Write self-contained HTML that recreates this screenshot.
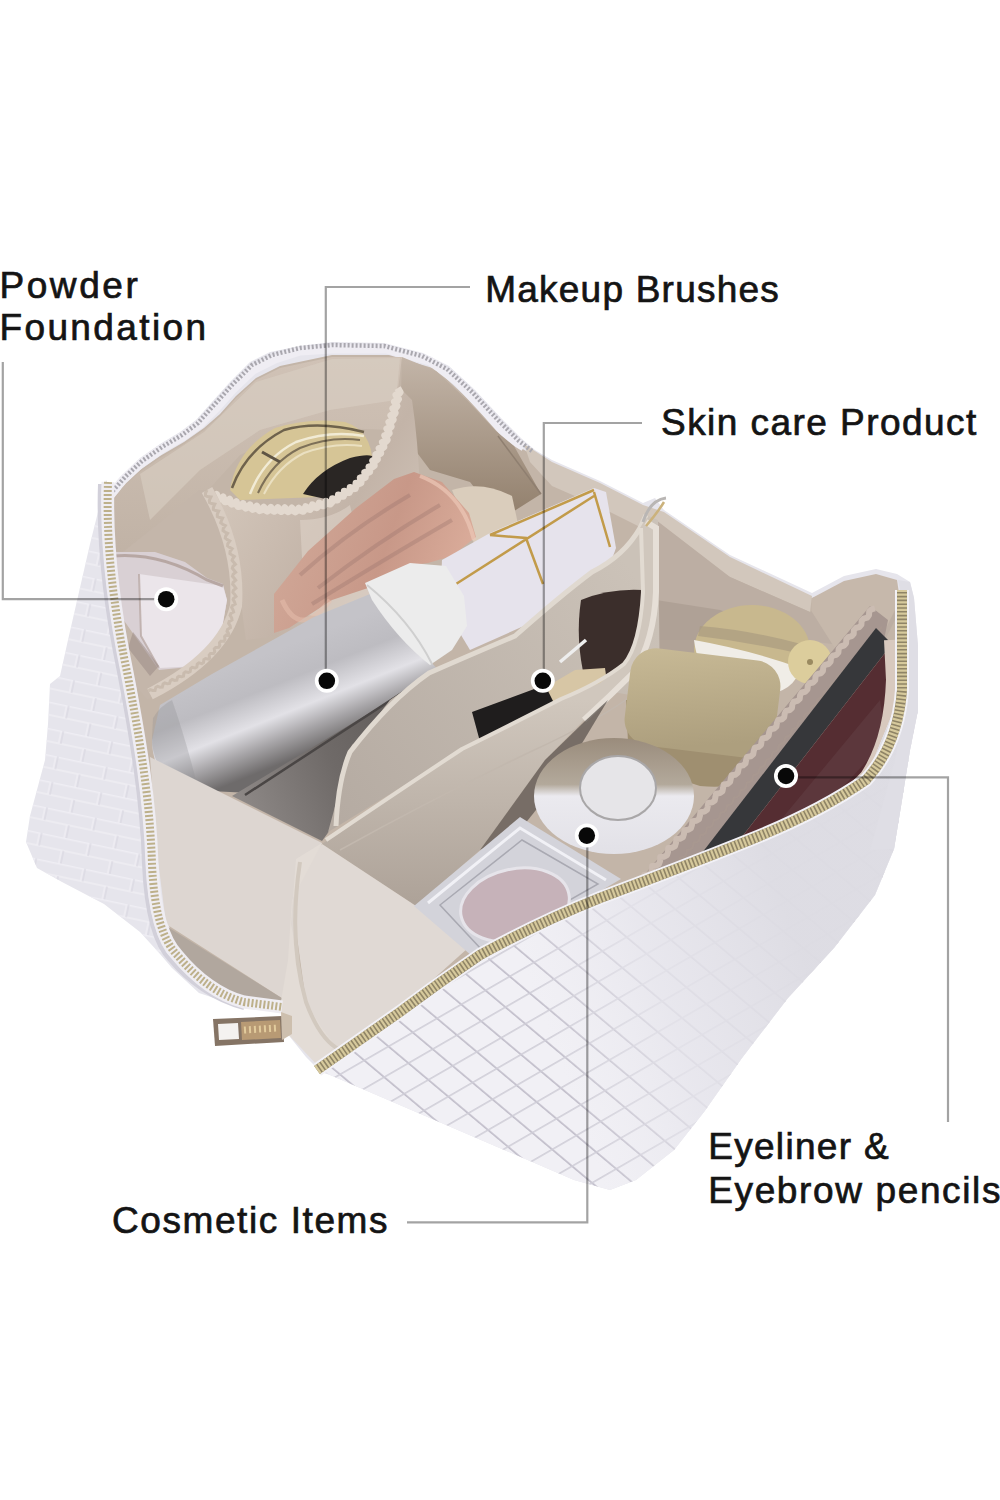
<!DOCTYPE html>
<html><head><meta charset="utf-8">
<style>
html,body{margin:0;padding:0;background:#fff;}
body{width:1000px;height:1500px;overflow:hidden;position:relative;}
svg{position:absolute;left:0;top:0;}
.t{position:absolute;font-family:"Liberation Sans",sans-serif;font-size:37px;color:#141414;white-space:nowrap;line-height:1;-webkit-text-stroke:0.7px #141414;}
</style></head><body>
<svg width="1000" height="1500" viewBox="0 0 1000 1500">
<defs>
<linearGradient id="silver" gradientUnits="userSpaceOnUse" x1="300" y1="640" x2="340" y2="740">
<stop offset="0" stop-color="#c4c3c8"/><stop offset="0.3" stop-color="#bdbcc1"/><stop offset="0.58" stop-color="#e2e1e6"/><stop offset="0.78" stop-color="#a9a7aa"/><stop offset="1" stop-color="#6e6b6b"/>
</linearGradient>
<linearGradient id="pink" gradientUnits="userSpaceOnUse" x1="300" y1="520" x2="470" y2="580">
<stop offset="0" stop-color="#cfa595"/><stop offset="0.5" stop-color="#c89888"/><stop offset="1" stop-color="#dcae9c"/>
</linearGradient>
<linearGradient id="gold" x1="0" y1="0" x2="0.3" y2="1">
<stop offset="0" stop-color="#c8ba96"/><stop offset="1" stop-color="#ad9f7e"/>
</linearGradient>
<linearGradient id="lid" gradientUnits="userSpaceOnUse" x1="0" y1="360" x2="0" y2="560">
<stop offset="0" stop-color="#d0c2b6"/><stop offset="1" stop-color="#c0b2a5"/>
</linearGradient>
<linearGradient id="scomp" x1="0" y1="0" x2="0" y2="1">
<stop offset="0" stop-color="#9a8c7c"/><stop offset="0.4" stop-color="#b3a99b"/><stop offset="0.5" stop-color="#ebeaef"/><stop offset="1" stop-color="#e2e1e7"/>
</linearGradient>
<linearGradient id="rlid" gradientUnits="userSpaceOnUse" x1="0" y1="360" x2="0" y2="510">
<stop offset="0" stop-color="#c2b4a7"/><stop offset="1" stop-color="#94826f"/>
</linearGradient>
<linearGradient id="pouch" gradientUnits="userSpaceOnUse" x1="220" y1="500" x2="420" y2="620">
<stop offset="0" stop-color="#d2c5b9"/><stop offset="0.5" stop-color="#c3b4a8"/><stop offset="1" stop-color="#d6cabf"/>
</linearGradient>
<linearGradient id="floor" gradientUnits="userSpaceOnUse" x1="240" y1="800" x2="420" y2="720">
<stop offset="0" stop-color="#8d8886"/><stop offset="0.5" stop-color="#6f6a68"/><stop offset="1" stop-color="#5f5a58"/>
</linearGradient>
<linearGradient id="frontlayer" gradientUnits="userSpaceOnUse" x1="0" y1="700" x2="0" y2="900">
<stop offset="0" stop-color="#d0c7bd"/><stop offset="1" stop-color="#aea399"/>
</linearGradient>
<linearGradient id="backlayer" gradientUnits="userSpaceOnUse" x1="340" y1="820" x2="640" y2="580">
<stop offset="0" stop-color="#b5aba2"/><stop offset="1" stop-color="#cbc2b8"/>
</linearGradient>
<linearGradient id="wash" gradientUnits="userSpaceOnUse" x1="540" y1="1010" x2="790" y2="920">
<stop offset="0" stop-color="#ebeaf0" stop-opacity="0"/><stop offset="0.45" stop-color="#e6e5ec" stop-opacity="0.8"/><stop offset="1" stop-color="#dddce3" stop-opacity="0.97"/>
</linearGradient>
<pattern id="weave" width="26" height="28" patternUnits="userSpaceOnUse" patternTransform="matrix(0.766 0.643 0.866 -0.5 0 0)">
<path d="M0,0.9 H26" stroke="#c1beca" stroke-width="1.8" fill="none"/>
<path d="M0.9,0 V28" stroke="#cfcdd7" stroke-width="1.6" fill="none"/>
</pattern>
<pattern id="weave2" width="50" height="26" patternUnits="userSpaceOnUse" patternTransform="rotate(12)">
<path d="M0,0.8 H50 M12,0 V13 M37,13 V26 M0,13 H50" stroke="#efeef4" stroke-width="1.4" fill="none"/>
<path d="M14,0 V13 M39,13 V26" stroke="#d6d4de" stroke-width="1" fill="none"/>
</pattern>
</defs>

<path fill="#e6e5ec" d="M106,480 L112,490 L124,474 L140,458 L160,444 L180,432 L196,420 L212,402 L230,382 L250,362 L270,352 L300,346 L332,342 L384,343 L423,353 L449,366 L475,390 L501,418 L522,439 L535,450 L552,460 L600,481 L643,503 L655,498 L664,510 L730,555 L812,593 L844,576 L876,569 L897,574 L910,582 L914,598 L918,646 L918,710 L910,750 L902,800 L894,849 L875,895 L834,948 L788,998 L742,1058 L704,1112 L674,1150 L636,1180 L610,1190 L574,1180 L330,1075 L321,1072 L306,1057 L286,1032 L282,1012 L244,1008 L199,993 L172,968 L160,954 L140,932 L104,904 L62,882 L37,868 L26,842 L30,816 L45,760 L48,724 L50,684 L60,676 L68,640 L90,544 Z"/>
<path fill="url(#weave2)" d="M106,480 L90,544 L68,640 L60,676 L50,684 L48,724 L45,760 L30,816 L26,842 L37,868 L62,882 L104,904 L140,932 L160,954 L172,968 L150,880 L145,800 L125,672 L106,576 Z"/>
<path d="M100,484 C98,540 104,600 119,672 C132,740 142,800 144,864 C146,910 154,944 170,960 C188,982 214,1000 244,1008" stroke="#d2d0da" stroke-width="4" fill="none"/>
<path fill="#c3b5a8" d="M112,500 L122,486 L140,470 L160,456 L184,442 L204,428 L220,414 L236,396 L256,378 L280,366 L332,355 L389,355 L436,369 L467,398 L496,429 L514,444 L552,466 L600,487 L643,508 L664,516 L730,560 L812,598 L880,578 L902,600 L905,700 L870,780 L750,840 L600,915 L480,952 L390,1018 L318,1066 L280,1007 L174,955 L157,852 L149,769 L136,686 L112,583 Z"/>
<path d="M109,497 L123,480 L140,464 L160,450 L182,437 L200,424 L216,408 L233,389 L253,370 L275,359 L300,351 L332,349 L386,349 L430,361 L458,382 L484,410 L508,437 L524,447" stroke="#efedf3" stroke-width="9" fill="none" stroke-linejoin="round"/>
<path fill="url(#lid)" d="M113,502 L122,488 L140,472 L160,458 L184,444 L204,430 L220,416 L236,398 L256,380 L280,368 L332,357 L402,357 L398,390 L390,430 L340,428 L290,432 L240,455 L210,488 L150,548 L115,556 Z"/>
<path fill="#d9cec3" opacity="0.6" d="M140,474 L204,432 L256,382 L332,359 L400,358 L396,400 L330,410 L260,430 L200,470 L150,520 Z"/>
<path fill="url(#rlid)" d="M402,357 L436,371 L467,400 L496,431 L514,446 L541,494 L500,520 L470,482 L430,470 L400,430 Z"/>
<path d="M498,436 L541,494" stroke="#8f7f70" stroke-width="1.5" fill="none"/>
<path fill="#d2c7bc" d="M524,444 L552,462 L600,483 L643,505 L664,512 L730,557 L812,596 L810,612 L730,577 L650,532 L600,507 L552,486 L530,462 Z"/>
<path fill="#bcaea3" d="M656,520 L730,577 L810,612 L880,585 L900,610 L880,650 L800,640 L700,640 L656,640 Z"/>
<path fill="#a99b90" d="M656,600 L720,610 L800,640 L700,660 L656,660 Z" opacity="0.7"/>
<path fill="#c6b8ab" d="M812,598 L844,581 L876,574 L897,580 L900,600 L880,640 L836,650 L812,612 Z"/>
<path fill="#d6c596" d="M230,490 Q236,450 275,428 Q310,417 345,422 Q375,432 372,470 L370,495 L240,500 Z"/>
<path d="M232,488 Q246,450 284,430 Q318,420 364,432" stroke="#6e624c" stroke-width="2.5" fill="none"/>
<path d="M258,493 Q272,462 300,448 Q330,436 360,440" stroke="#7d7058" stroke-width="2" fill="none"/>
<path d="M250,494 Q264,458 296,442 Q330,430 364,436" stroke="#f4eedc" stroke-width="2.5" fill="none" opacity="0.9"/>
<path d="M264,494 Q278,466 304,453 Q334,442 362,446" stroke="#efe6cc" stroke-width="2" fill="none" opacity="0.8"/>
<path d="M262,452 L280,462" stroke="#5e5444" stroke-width="3" fill="none"/>
<path d="M303,494 Q318,470 350,458 Q366,454 372,456 L372,486 L330,500 Z" fill="#2a2624"/>
<path fill="url(#pouch)" d="M209,490 Q240,505 262,508 Q300,510 332,500 Q355,486 368,468 Q378,452 385,440 L398,386 L412,400 Q418,440 420,490 L422,570 Q400,615 332,630 L246,640 Q240,600 238,560 Q232,520 209,490 Z"/>
<path d="M210.0,492.0 L210.7,495.3 L211.9,497.0 L214.0,496.5 L216.6,494.4 L217.2,497.7 L218.5,499.4 L220.5,498.9 L223.1,496.9 L223.8,500.1 L225.1,501.8 L227.1,501.3 L229.7,499.3 L230.4,502.5 L231.7,504.2 L233.7,503.7 L236.3,501.7 L237.0,505.0 L238.2,506.6 L240.8,506.0 L243.0,503.6 L244.2,506.7 L245.8,508.1 L247.7,507.2 L249.9,504.9 L251.1,508.0 L252.7,509.4 L254.6,508.5 L256.8,506.2 L258.0,509.2 L259.6,510.6 L261.9,509.7 L263.8,507.2 L265.4,510.0 L267.2,511.1 L268.9,509.9 L270.8,507.4 L272.4,510.2 L274.2,511.3 L275.9,510.1 L277.8,507.6 L279.4,510.4 L281.2,511.5 L283.0,510.3 L284.8,507.8 L286.4,510.6 L288.2,511.7 L290.0,510.4 L291.8,508.0 L293.5,510.8 L295.2,511.9 L297.0,510.6 L298.8,508.2 L301.3,510.7 L303.2,511.3 L304.6,509.5 L305.7,506.7 L308.1,508.9 L310.0,509.5 L311.4,507.7 L312.4,504.9 L314.8,507.1 L316.8,507.7 L318.1,505.9 L319.2,503.1 L321.6,505.3 L323.6,505.8 L324.9,504.1 L326.0,501.3 L328.4,503.5 L330.3,504.0 L332.3,501.7 L332.5,498.7 L335.4,500.1 L337.4,500.0 L338.2,497.9 L338.4,495.0 L341.4,496.3 L343.3,496.2 L344.1,494.1 L344.3,491.2 L347.3,492.6 L349.3,492.4 L350.0,490.3 L350.2,487.4 L353.2,488.8 L355.2,488.6 L355.9,486.5 L356.0,483.3 L359.2,483.6 L361.0,482.8 L361.0,480.6 L360.3,477.8 L363.5,478.1 L365.3,477.3 L365.3,475.1 L364.7,472.3 L367.9,472.6 L369.7,471.8 L369.6,469.6 L369.0,466.8 L372.2,467.1 L374.2,465.5 L373.7,463.3 L372.7,460.8 L375.9,460.5 L377.4,459.3 L376.9,457.1 L375.9,454.6 L379.1,454.3 L380.7,453.1 L380.2,450.9 L379.1,448.4 L382.3,448.0 L383.9,446.9 L383.4,444.6 L382.4,442.2 L385.6,441.8 L387.2,439.9 L386.3,437.8 L384.8,435.5 L387.9,434.6 L389.2,433.2 L388.3,431.1 L386.9,428.8 L389.9,427.9 L391.2,426.5 L390.3,424.3 L388.9,422.1 L391.9,421.2 L393.2,419.7 L392.3,417.6 L390.9,415.4 L394.0,414.5 L395.2,413.0 L394.3,410.9 L392.9,408.6 L395.8,407.5 L397.0,406.0 L395.9,403.9 L394.4,401.8 L397.4,400.7 L398.5,399.1 L397.4,397.1 L396.0,395.0 L399.0,393.8 L400.1,392.3 L398.9,390.2 L397.6,388.1" stroke="#e3d9cf" stroke-width="7" fill="none" stroke-linejoin="round"/>
<path d="M300,520 Q330,520 350,505 L372,600 Q340,620 305,615 Z" fill="#ddd2c8" opacity="0.6"/>
<path fill="#dacdbc" d="M452,490 Q482,480 512,496 L518,524 L476,548 Z"/>
<path fill="url(#pink)" d="M274,594 L308,551 L356,508 L394,479 L414,472 L442,482 L469,513 L476,537 L452,556 L428,563 L404,566 L368,588 L332,600 L289,628 L274,633 Z"/>
<path d="M318,588 Q380,540 440,505 M312,604 Q390,556 452,520 M300,575 Q350,530 410,495" stroke="#94706a" stroke-width="4" opacity="0.32" fill="none"/>
<path d="M420,476 Q462,492 474,540" stroke="#ecc8b6" stroke-width="4" opacity="0.7" fill="none"/>
<path d="M282,600 Q300,640 330,600" stroke="#e8c0ae" stroke-width="5" opacity="0.5" fill="none"/>
<path fill="#e6e3ec" d="M442,560 L490,533 L594,488 L606,492 L616,548 L600,592 L470,650 L440,600 Z"/>
<path d="M456,584 L594,496 M490,535 L594,490 M490,535 L526,538 L543,584 M594,492 L610,547" stroke="#c29b4a" stroke-width="2.5" fill="none"/>
<path fill="#c4b6aa" d="M113,560 L200,490 L214,490 Q240,540 238,600 Q226,650 190,674 L147,700 L136,686 Z"/>
<path fill="#d9d0d4" d="M113,552 L155,552 L185,562 L207,578 L223,584 L227,600 L220,640 L199,666 L159,670 L139,642 L118,612 L111,575 Z"/>
<path fill="#ebe5ea" d="M139,574 L223,586 L227,600 L220,640 L199,666 L159,668 L141,636 Z"/>
<path d="M113,556 Q160,552 207,580 L223,586" stroke="#a8968e" stroke-width="3" fill="none" opacity="0.7"/>
<path d="M139,574 L141,636 L159,668" stroke="#b3a39c" stroke-width="2" fill="none" opacity="0.7"/>
<path fill="#9c8c86" opacity="0.55" d="M133,632 L159,666 L150,676 L128,648 Z"/>
<path d="M207,490 Q240,548 236,606 Q224,656 150,694" stroke="#d9cdc2" stroke-width="12" fill="none"/>
<path d="M207.0,490.0 L205.5,493.1 L205.5,495.5 L207.5,496.6 L210.9,497.0 L209.4,500.2 L209.5,502.5 L211.6,503.6 L214.8,504.1 L213.4,507.2 L213.4,509.5 L215.6,510.6 L218.7,511.1 L217.3,514.2 L217.4,516.5 L219.6,517.5 L222.6,518.1 L221.2,521.2 L220.7,522.8 L222.6,524.3 L225.3,525.6 L223.3,528.3 L223.0,530.5 L224.9,532.0 L227.6,533.3 L225.6,536.0 L225.3,538.2 L227.3,539.7 L229.8,541.0 L227.8,543.7 L227.6,545.9 L229.7,547.4 L232.1,548.7 L230.1,551.4 L229.9,553.6 L232.0,555.1 L234.3,556.5 L232.4,559.2 L232.1,560.3 L233.7,562.2 L235.4,564.2 L232.9,566.3 L232.3,568.3 L234.0,570.3 L235.6,572.2 L233.1,574.3 L232.5,576.3 L234.2,578.3 L235.7,580.3 L233.2,582.4 L232.7,584.4 L234.5,586.3 L235.9,588.3 L233.4,590.4 L232.9,592.4 L234.7,594.4 L236.0,596.4 L233.5,598.4 L233.1,599.6 L234.5,601.9 L235.2,604.1 L232.4,605.6 L231.6,607.5 L233.0,609.8 L233.6,612.0 L230.8,613.5 L230.1,615.4 L231.6,617.7 L232.0,619.9 L229.3,621.4 L228.6,623.3 L230.1,625.6 L230.4,627.8 L227.7,629.3 L227.0,631.2 L228.6,633.6 L228.8,635.6 L226.0,635.2 L224.6,636.6 L224.9,639.4 L223.9,641.2 L220.9,641.3 L219.5,642.8 L219.8,645.6 L218.7,647.4 L215.7,647.5 L214.3,648.9 L214.7,651.8 L213.5,653.5 L210.5,653.6 L209.2,655.1 L209.6,658.1 L208.5,659.2 L205.6,658.5 L203.9,659.6 L203.5,662.5 L201.8,663.6 L198.9,662.9 L197.3,664.1 L196.8,667.0 L195.1,668.0 L192.2,667.4 L190.6,668.6 L190.2,671.5 L188.3,672.4 L185.5,671.8 L183.9,673.0 L183.5,676.1 L181.6,676.8 L178.8,676.3 L177.6,677.1 L176.8,680.1 L174.7,680.5 L172.1,679.5 L170.4,680.6 L169.5,683.5 L167.4,683.8 L164.8,682.9 L163.1,684.0 L162.3,687.0 L160.1,687.2 L157.5,686.3 L155.8,687.4 L155.0,690.5 L152.8,690.5 L150.2,689.7 L148.5,690.9" stroke="#c4b6a9" stroke-width="3" fill="none" opacity="0.8"/>
<path fill="url(#silver)" d="M160,705 L212,674 L314,617 L370,594 L440,672 L391,700 L250,793 L190,790 Q152,780 152,740 Z"/>
<path fill="#8f8d92" opacity="0.3" d="M153,718 Q160,706 172,700 Q186,740 198,788 Q172,782 160,768 Q152,754 152,738 Z"/>
<path fill="#ececec" d="M365,583 L410,563 L446,566 L464,596 L467,626 L452,650 L430,665 Q398,640 372,600 Z"/>
<path d="M367,585 Q410,620 432,664" stroke="#cfcfcf" stroke-width="2" fill="none"/>
<path fill="url(#floor)" d="M232,796 L391,700 L440,672 L470,660 L352,745 L330,830 L322,841 Z"/>
<path d="M245,795 L391,700 L440,668" stroke="#4a4645" stroke-width="2.5" fill="none"/>
<path fill="#ddd6d1" d="M150,757 L322,843 L300,900 L292,960 L288,1002 L166,924 L157,852 Z"/>
<path fill="#b1a79e" d="M166,926 L288,1002 L280,1007 L244,1002 L205,989 L174,955 Z"/>
<path fill="url(#backlayer)" d="M328,832 L350,752 L390,700 L429,673 L495,647 L560,600 L592,571 L621,555 L640,528 L646,515 L658,520 L660,700 L595,689 L519,727 L424,773 L325,834 Z"/>
<path d="M336,826 Q338,780 350,752 Q390,700 429,673 Q470,655 515,636 Q560,596 592,572 Q624,556 640,528 L646,515" stroke="#e0d9d0" stroke-width="5" fill="none"/>
<path fill="#3b2e2b" d="M581,600 Q610,588 643,590 L643,640 Q636,664 612,680 L585,680 Q575,640 581,600 Z"/>
<path fill="#d7c6a5" d="M541,690 L575,670 L605,668 L608,690 L560,713 Z"/>
<path fill="#1f1d1d" d="M472,712 L545,685 L560,715 L482,749 Z"/>
<path d="M560,662 L586,640" stroke="#eeeeee" stroke-width="3.5" fill="none"/>
<path fill="url(#frontlayer)" d="M322,844 L462,749 L561,699 L600,683 L624,664 L637,640 L643,592 L640,528 L646,518 L656,525 L656,592 L650,640 L634,672 L608,696 L584,720 L545,760 L480,850 L416,906 Z"/>
<path d="M326,840 Q400,790 462,749 Q520,720 561,699 Q600,683 624,664 Q640,645 643,592 L641,528" stroke="#e2dbd2" stroke-width="4" fill="none"/>
<path d="M646,522 L656,528 L656,592 Q654,640 634,672 Q610,696 584,720" stroke="#e6dfd7" stroke-width="6" fill="none"/>
<path d="M340,850 Q430,800 530,752 Q600,720 640,690" stroke="#c2b8ae" stroke-width="1.5" fill="none"/>
<path d="M643,522 Q650,500 666,498" stroke="#b9b6b4" stroke-width="3" fill="none"/>
<path d="M646,526 Q658,512 664,502" stroke="#cbb27c" stroke-width="2.5" fill="none"/>
<path fill="#e0d9d4" d="M322,844 L416,906 L468,948 L390,1018 L318,1066 L306,1002 L296,930 L300,870 Z"/>
<path fill="#e3dcd6" d="M322,843 L296,859 L291,924 L306,1002 L322,1028 L335,1045 L318,1066 L286,1032 L280,1007 L288,960 L292,900 Z"/>
<path d="M300,862 Q288,940 306,1002 Q320,1040 340,1050" stroke="#d2c9bf" stroke-width="4" fill="none"/>
<path fill="#5e5550" opacity="0.75" d="M480,850 L545,760 L584,722 L608,700 L560,780 L520,830 Z"/>
<ellipse cx="752" cy="650" rx="58" ry="45" fill="#c8b88e"/>
<path d="M694,640 Q750,650 800,668 Q795,695 750,697 Q700,690 694,640 Z" fill="#f0ede7"/><path d="M700,626 Q750,630 805,645 L806,655 Q750,642 698,636 Z" fill="#a99b80" opacity="0.7"/>
<circle cx="810" cy="662" r="22" fill="#dccd9c"/><circle cx="810" cy="662" r="3" fill="#9a8a60"/>
<path fill="#9f8f70" d="M626,700 L628,742 Q650,772 700,786 Q745,790 768,770 L780,720 Z"/>
<rect x="627" y="654" width="151" height="98" rx="26" transform="rotate(7 702 703)" fill="url(#gold)"/>
<ellipse cx="614" cy="796" rx="80" ry="58" fill="url(#scomp)"/>
<ellipse cx="618" cy="788" rx="38" ry="32" fill="#e6e5e8" stroke="#a9a7a8" stroke-width="2"/>
<path fill="#d3d3da" d="M414,906 L520,817 L621,879 L479,962 Z"/>
<path fill="none" stroke="#f4f4f8" stroke-width="3" d="M428,903 L520,828 L606,880" opacity="0.9"/>
<path fill="none" stroke="#a9a9b2" stroke-width="1.5" d="M440,905 L522,840 L598,884 L482,950 Z"/>
<ellipse cx="515" cy="905" rx="55" ry="36" transform="rotate(-12 515 905)" fill="#c6b2b9"/>
<ellipse cx="515" cy="905" rx="55" ry="36" transform="rotate(-12 515 905)" fill="none" stroke="#e6e4ea" stroke-width="3"/>
<path fill="#a69690" d="M640,880 L834,649 L870,606 L888,620 L884,640 L700,860 Z"/>
<path d="M636.0,884.0 L640.1,883.6 L643.0,882.2 L644.1,879.1 L644.1,875.0 L648.2,874.6 L651.0,873.1 L652.1,870.1 L652.1,866.1 L656.2,865.7 L659.0,864.1 L660.1,861.0 L660.2,857.1 L664.2,856.7 L667.0,855.1 L668.0,852.0 L668.2,848.1 L672.3,847.7 L675.0,846.1 L676.0,842.9 L676.3,839.1 L680.3,838.7 L683.0,837.1 L684.0,833.9 L684.3,830.2 L688.4,829.7 L691.0,828.1 L692.0,824.9 L692.4,821.2 L696.4,820.7 L699.0,819.1 L699.9,815.8 L700.4,812.2 L704.4,811.6 L707.0,809.8 L707.7,806.5 L708.2,803.0 L712.2,802.4 L714.7,800.6 L715.4,797.2 L716.0,793.8 L719.9,793.1 L722.4,791.3 L723.1,787.9 L723.7,784.5 L727.7,783.9 L730.1,782.0 L730.8,778.7 L731.5,775.3 L735.4,774.7 L737.8,772.7 L738.5,769.4 L739.2,766.1 L743.1,765.4 L745.5,763.5 L746.1,760.1 L747.0,756.9 L750.9,756.2 L753.2,754.2 L753.8,750.8 L754.8,747.6 L758.6,746.9 L761.0,744.9 L761.5,741.5 L762.5,738.4 L766.4,737.7 L768.7,735.7 L769.2,732.2 L770.3,729.2 L774.2,728.5 L776.4,726.5 L776.9,723.0 L778.1,720.0 L781.9,719.3 L784.2,717.2 L784.7,713.7 L786.0,710.9 L789.7,710.1 L791.9,708.0 L792.4,704.4 L793.8,701.7 L797.5,700.9 L799.7,698.8 L800.1,695.2 L801.6,692.5 L805.3,691.7 L807.4,689.5 L807.8,685.9 L809.4,683.3 L813.1,682.5 L815.2,680.3 L815.5,676.7 L817.2,674.1 L820.9,673.3 L822.9,671.0 L823.3,667.4 L825.0,664.9 L828.6,664.0 L830.6,661.8 L831.0,658.1 L832.8,655.7 L836.4,654.8 L838.4,652.5 L838.7,648.8 L840.5,646.5 L844.1,645.5 L846.1,643.2 L846.3,639.5 L848.2,637.2 L851.8,636.2 L853.7,633.9 L853.9,630.2 L856.0,627.9 L859.5,627.0 L861.4,624.6 L861.6,620.8 L863.7,618.7 L867.2,617.7 L869.0,615.3 L869.2,611.5 L871.4,609.4 L874.9,608.4" stroke="#cbbcb2" stroke-width="6" fill="none" stroke-linejoin="round"/>
<path d="M660.0,880.0 L663.3,879.5 L665.6,878.2 L666.6,875.8 L666.7,872.5 L670.0,872.0 L672.3,870.7 L673.2,868.2 L673.4,865.0 L676.7,864.6 L678.9,863.2 L679.9,860.7 L680.2,857.6 L683.4,857.1 L685.6,855.7 L686.5,853.1 L686.9,850.1 L690.1,849.6 L692.3,848.2 L693.2,845.6 L693.6,842.6 L696.8,842.1 L699.0,840.7 L699.8,838.1 L700.3,835.1 L703.5,834.6 L705.6,833.1 L706.5,830.5 L707.0,827.6 L710.2,827.1 L712.3,825.6 L713.1,823.0 L713.7,820.2 L716.9,819.6 L719.0,818.1 L719.8,815.4 L720.5,812.7 L723.6,812.1 L725.7,810.6 L726.4,807.9 L727.2,805.2 L730.3,804.6 L732.3,803.1 L733.1,800.4 L733.9,797.7 L737.0,797.1 L739.0,795.5 L739.7,792.8 L740.6,790.2 L743.7,789.5 L745.6,787.9 L746.2,785.1 L747.1,782.6 L750.2,781.8 L752.1,780.2 L752.7,777.4 L753.6,774.9 L756.7,774.2 L758.6,772.5 L759.1,769.7 L760.2,767.2 L763.2,766.5 L765.0,764.8 L765.6,761.9 L766.7,759.6 L769.7,758.8 L771.5,757.1 L772.0,754.2 L773.2,751.9 L776.2,751.2 L778.0,749.4 L778.5,746.5 L779.7,744.3 L782.7,743.5 L784.4,741.7 L784.9,738.8 L786.2,736.6 L789.2,735.8 L790.9,734.0 L791.3,731.1 L792.7,728.9 L795.7,728.1 L797.4,726.3 L797.8,723.3 L799.2,721.3 L802.1,720.4 L803.8,718.6 L804.2,715.6 L805.7,713.6 L808.6,712.8 L810.3,710.9 L810.7,707.9 L812.3,706.0 L815.1,705.1 L816.7,703.2 L817.1,700.2 L818.8,698.3 L821.6,697.4 L823.2,695.5 L823.6,692.5 L825.3,690.7 L828.2,689.8 L829.7,687.8 L830.1,684.8 L831.9,683.1 L834.7,682.2 L836.3,680.2 L836.6,677.2 L838.5,675.5 L841.3,674.6 L842.8,672.5 L843.1,669.5 L845.1,667.9 L847.8,666.9 L849.3,664.9 L849.6,661.8 L851.6,660.3 L854.4,659.3 L855.8,657.2 L856.1,654.2 L858.2,652.7 L860.9,651.7 L862.4,649.6 L862.6,646.5 L864.8,645.1 L867.5,644.1 L868.9,641.9 L869.1,638.8 L871.4,637.5 L874.0,636.4 L875.4,634.3 L875.6,631.2 L877.9,629.9 L880.6,628.8 L881.9,626.6" stroke="#a99890" stroke-width="2" fill="none" opacity="0.7"/>
<path fill="#36373a" d="M695,862 L876,628 L892,644 L724,860 Z"/>
<path fill="#552d32" d="M724,860 L892,644 L900,700 L890,760 L800,830 Z"/>
<path fill="#5e3a3e" opacity="0.8" d="M760,845 L880,700 L886,740 L820,812 Z"/>
<path d="M770,842 Q830,815 866,776 Q890,740 892,680 L890,640" stroke="#d8c9be" stroke-width="12" fill="none"/>
<path fill="#f1f0f5" d="M318,1066 L390,1018 L480,952 L600,895 L750,840 L866,778 L898,700 L906,600 L918,646 L918,710 L910,750 L902,800 L894,849 L875,895 L834,948 L788,998 L742,1058 L704,1112 L674,1150 L636,1180 L610,1190 L574,1180 L330,1075 Z"/>
<path fill="url(#weave)" d="M318,1066 L390,1018 L480,952 L600,895 L750,840 L866,778 L898,700 L906,600 L918,646 L918,710 L910,750 L902,800 L894,849 L875,895 L834,948 L788,998 L742,1058 L704,1112 L674,1150 L636,1180 L610,1190 L574,1180 L330,1075 Z"/>
<path fill="url(#wash)" d="M318,1066 L390,1018 L480,952 L600,895 L750,840 L866,778 L898,700 L906,600 L918,646 L918,710 L910,750 L902,800 L894,849 L875,895 L834,948 L788,998 L742,1058 L704,1112 L674,1150 L636,1180 L610,1190 L574,1180 L330,1075 Z"/>
<path fill="#dfdee5" d="M898,580 L910,582 L914,598 L918,646 L918,710 L910,750 L902,800 L894,849 L870,850 L895,760 L906,700 L904,610 Z"/>
<path d="M110,494 L126,476 L142,461 L162,447 L182,435 L198,423 L214,405 L232,385 L252,365 L272,355 L300,348 L332,345 L384,346 L422,356 L447,369 L472,392 L498,420 L519,441 L532,451" stroke="#a9a7ae" stroke-width="4.5" fill="none" stroke-dasharray="2 2"/>
<path d="M108,482 C106,540 112,600 127,672 C140,740 150,800 152,864 C154,910 162,940 178,956 C196,978 220,996 244,1002 L282,1007" stroke="#efedf2" stroke-width="13" fill="none"/>
<path d="M108,482 C106,540 112,600 127,672 C140,740 150,800 152,864 C154,910 162,940 178,956 C196,978 220,996 244,1002 L282,1007" stroke="#bdb08a" stroke-width="8" fill="none" stroke-dasharray="2 2"/>
<path d="M317,1070 Q360,1040 400,1012 Q440,982 480,955 Q540,922 600,898 Q680,868 750,840 Q820,812 866,780 Q898,745 902,690 L902,590" stroke="#f2f1f6" stroke-width="14" fill="none"/>
<path d="M317,1070 Q360,1040 400,1012 Q440,982 480,955 Q540,922 600,898 Q680,868 750,840 Q820,812 866,780 Q898,745 902,690 L902,590" stroke="#8f8466" stroke-width="10" fill="none"/>
<path d="M317,1070 Q360,1040 400,1012 Q440,982 480,955 Q540,922 600,898 Q680,868 750,840 Q820,812 866,780 Q898,745 902,690 L902,590" stroke="#d6c99c" stroke-width="10" fill="none" stroke-dasharray="2.2 1.6"/>
<path fill="#857465" d="M213,1019 L282,1016 L284,1042 L215,1046 Z"/>
<path fill="#f4f2f0" d="M218,1024 L238,1023 L239,1039 L219,1040 Z"/>
<path fill="#b89a74" d="M241,1022 L280,1020 L281,1038 L242,1040 Z"/>
<path d="M244,1030 L278,1028" stroke="#e2cb9c" stroke-width="7" fill="none" stroke-dasharray="2 3"/>
<path fill="#cdbfae" d="M281,1012 L292,1016 L292,1034 L282,1040 Z"/>
<path d="M2.8,362 V599.2 H160" stroke="#000" stroke-opacity="0.36" stroke-width="2.2" fill="none"/>
<path d="M325.8,675 V287 H470" stroke="#000" stroke-opacity="0.36" stroke-width="2.2" fill="none"/>
<path d="M543.8,675 V423 H642" stroke="#000" stroke-opacity="0.36" stroke-width="2.2" fill="none"/>
<path d="M792,777.3 H948 V1122" stroke="#000" stroke-opacity="0.36" stroke-width="2.2" fill="none"/>
<path d="M587.3,841 V1222.3 H407" stroke="#000" stroke-opacity="0.36" stroke-width="2.2" fill="none"/>
<circle cx="166.2" cy="599.2" r="12" fill="#fff"/><circle cx="166.2" cy="599.2" r="8.3" fill="#080808"/>
<circle cx="326.8" cy="680.8" r="12" fill="#fff"/><circle cx="326.8" cy="680.8" r="8.3" fill="#080808"/>
<circle cx="542.8" cy="680.8" r="12" fill="#fff"/><circle cx="542.8" cy="680.8" r="8.3" fill="#080808"/>
<circle cx="586.8" cy="835.6" r="12" fill="#fff"/><circle cx="586.8" cy="835.6" r="8.3" fill="#080808"/>
<circle cx="786" cy="776" r="12" fill="#fff"/><circle cx="786" cy="776" r="8.3" fill="#080808"/>
</svg>
<div class="t" style="left:-0.6px;top:266.5px;letter-spacing:2.6px">Powder</div>
<div class="t" style="left:-0.6px;top:309.4px;letter-spacing:2.4px">Foundation</div>
<div class="t" style="left:485.2px;top:270.6px;letter-spacing:1.23px">Makeup Brushes</div>
<div class="t" style="left:661px;top:403.8px;letter-spacing:1.45px">Skin care Product</div>
<div class="t" style="left:708.2px;top:1128.2px;letter-spacing:1.31px">Eyeliner &amp;</div>
<div class="t" style="left:708.2px;top:1172.2px;letter-spacing:1.63px">Eyebrow pencils</div>
<div class="t" style="left:112px;top:1202.2px;letter-spacing:1.58px">Cosmetic Items</div>
</body></html>
